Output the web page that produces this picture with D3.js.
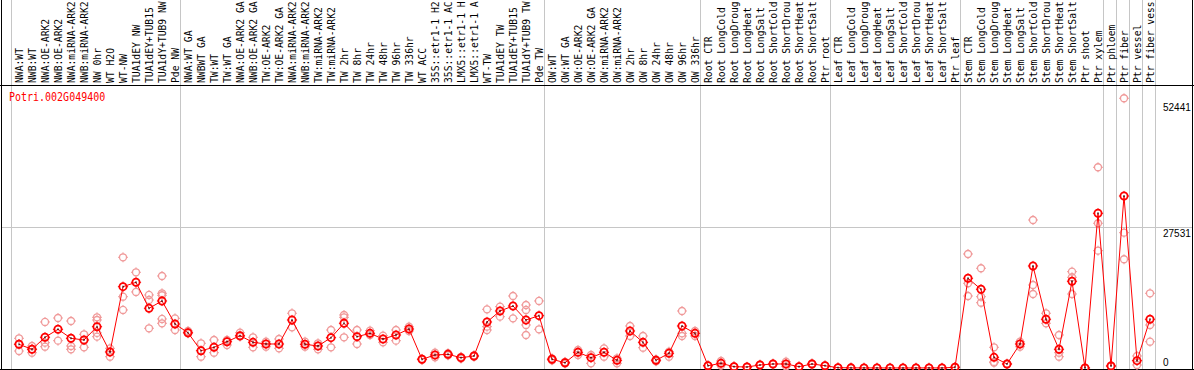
<!DOCTYPE html>
<html>
<head>
<meta charset="utf-8">
<script src="https://cdn.jsdelivr.net/npm/d3@7"></script>
<style>
  html, body { margin: 0; padding: 0; background: #fff; }
  svg { display: block; }
</style>
</head>
<body>
<svg id="chart" width="1194" height="370"></svg>
<script>
const geneId = "Potri.002G049400";

const categories = [
  "NWA:WT","NWB:WT","NWA:OE-ARK2","NWB:OE-ARK2","NWA:miRNA-ARK2","NWB:miRNA-ARK2","NW 0hr","WT H2O","WT-NW","TUA1dEY NW","TUA1dEY+TUB15","TUA1dY+TUB9 NW","Pde NW",
  "NWA:WT GA","NWBWT GA","TW:WT","TW:WT GA","NWA:OE-ARK2 GA","NWB:OE-ARK2 GA","TW:OE-ARK2","TW:OE-ARK2 GA","NWA:miRNA-ARK2","NWB:miRNA-ARK2","TW:miRNA-ARK2","TW:miRNA-ARK2","TW 2hr","TW 8hr","TW 24hr","TW 48hr","TW 96hr","TW 336hr","WT ACC","35S::etr1-1 H2O","35S::etr1-1 ACC","LMX5::etr1-1 H2O","LMX5::etr1-1 ACC","WT-TW","TUA1dEY TW","TUA1dEY+TUB15","TUA1dY+TUB9 TW","Pde TW",
  "OW:WT","OW:WT GA","OW:OE-ARK2","OW:OE-ARK2 GA","OW:miRNA-ARK2","OW:miRNA-ARK2","OW 2hr","OW 8hr","OW 24hr","OW 48hr","OW 96hr","OW 336hr",
  "Root CTR","Root LongCold","Root LongDrought","Root LongHeat","Root LongSalt","Root ShortCold","Root ShortDrought","Root ShortHeat","Root ShortSalt","Ptr root",
  "Leaf CTR","Leaf LongCold","Leaf LongDrought","Leaf LongHeat","Leaf LongSalt","Leaf ShortCold","Leaf ShortDrought","Leaf ShortHeat","Leaf ShortSalt","Ptr leaf",
  "Stem CTR","Stem LongCold","Stem LongDrought","Stem LongHeat","Stem LongSalt","Stem ShortCold","Stem ShortDrought","Stem ShortHeat","Stem ShortSalt","Ptr shoot","Ptr xylem",
  "Ptr phloem","Ptr fiber","Ptr vessel","Ptr fiber vessel"
];

// group boundaries (column indices where a separator line is drawn)
const groupBreaks = [0, 13, 41, 53, 63, 73, 84, 85, 86, 87, 88];

const means = [
  4660, 3680, 6040, 7610, 5840, 5510, 8120, 3150, 15990, 16850, 11740, 13180, 8650,
  6940, 3400, 4070, 5170, 6350, 5050, 4720, 4720, 9440, 4660, 4330, 5960, 8790, 6160, 6820, 5700, 6490, 7670, 1710, 2560, 2690, 2030, 2360, 9050, 11210, 12190, 9440, 10290,
  1710, 1040, 3090, 2030, 3090, 1510, 7280, 5050, 1510, 2890, 8260, 6820,
  450, 920, 260, 200, 590, 790, 790, 260, 790, 450,
  60, 30, 20, 15, 10, 10, 15, 20, 10, 140,
  17640, 15480, 2100, 790, 4720, 20060, 9580, 3680, 17050, 20, 30420,
  390, 33820, 1440, 9580
];

const replicates = [
  [5840, 3340, 4720], [4330, 3010, 3700], [9050, 4980, 4190], [9830, 5370], [9240, 4330, 3680], [6630, 4070], [9970, 9440, 6160, 6900], [3870, 2220], [21770, 14020, 11410], [18820, 14950], [14360, 13370, 7810], [18090, 14690, 14300, 9640, 8790], [9770, 7470],
  [7280, 6820], [4860, 2220], [5510, 3010], [5510, 4520], [6940, 6160], [6040, 4070], [5170, 4190], [5700, 3870], [10760, 8000], [5170, 4190], [4860, 3680], [7470, 4070], [10420, 9970, 6040], [7470, 4720], [7340, 6490], [6350, 5050], [7470, 5370], [8120, 7280], [1800, 1620], [3010, 2100], [2900, 2500], [2200, 1850], [2500, 2220], [11540, 7470, 8130], [12060, 10090], [14160, 9770], [12390, 11410, 8460, 6490], [13180, 7610],
  [1900, 1520], [1200, 880], [3540, 2560], [2560, 920], [3870, 2220], [1910, 920], [8260, 6290], [6290, 3990], [1700, 1330], [3210, 2220], [11210, 6820, 6290], [7280, 6290],
  [500, 400], [1380, 470], [300, 210], [200, 190], [650, 530], [850, 720], [1240, 330], [300, 210], [900, 670], [500, 400],
  [80, 40], [40, 20], [30, 10], [20, 10], [15, 5], [15, 5], [20, 10], [30, 10], [15, 5], [180, 100],
  [22420, 16660, 14160], [19610, 14020, 12840], [4070, 1040, 1200], [840, 730], [5170, 4190], [29100, 16320, 14550], [10760, 8790], [6490, 3010, 2220], [18940, 17840, 14550], [30, 10], [39470, 28460, 23070],
  [500, 290], [53040, 26610, 21380], [2360, 590], [14690, 8460, 5170]
];

const yTickValues = [0, 27531, 52441];

// ---------- drawing ----------
const W = 1194, H = 370;
const svg = d3.select("#chart");

const colStart = 11.5, colW = 13;
const x = d3.scaleBand()
  .domain(d3.range(categories.length))
  .range([colStart, colStart + colW * categories.length])
  .paddingInner(0).paddingOuter(0);
const cx = i => x(i) + 7.5;

const y = d3.scaleLinear().domain([0, 52441]).range([368, 101.3]);

const headerBottom = 85.5;
const gray = "#c6c6c6";
const maxChars = 14;       // header column holds 14 characters

// gridline at middle tick
svg.append("g").selectAll("line")
  .data(yTickValues.filter(v => v !== 0 && v !== 52441))
  .join("line")
  .attr("x1", 1).attr("x2", 1192)
  .attr("y1", d => Math.round(y(d)) - 0.5).attr("y2", d => Math.round(y(d)) - 0.5)
  .attr("stroke", gray).attr("stroke-width", 1);

// group separators
svg.append("g").selectAll("line")
  .data(groupBreaks)
  .join("line")
  .attr("x1", d => x.range()[0] + d * x.bandwidth())
  .attr("x2", d => x.range()[0] + d * x.bandwidth())
  .attr("y1", 0).attr("y2", 369)
  .attr("stroke", gray).attr("stroke-width", 1);

// header labels (truncated to the column height, as in the original)
svg.append("g").selectAll("text")
  .data(categories.map(c => c.slice(0, maxChars).trimEnd()))
  .join("text")
  .attr("transform", (d, i) => `translate(${cx(i) + 4},83) rotate(-90) scale(1,1.12)`)
  .attr("font-family", "DejaVu Sans Mono, monospace")
  .attr("font-size", 9.7)
  .attr("fill", "#000")
  .text(d => d);

// borders
svg.append("line").attr("x1", 0).attr("x2", W).attr("y1", headerBottom).attr("y2", headerBottom)
  .attr("stroke", "#000").attr("stroke-width", 1);
svg.append("line").attr("x1", 0).attr("x2", W).attr("y1", 369.5).attr("y2", 369.5)
  .attr("stroke", "#000").attr("stroke-width", 1);
svg.append("line").attr("x1", 1.5).attr("x2", 1.5).attr("y1", 0).attr("y2", H)
  .attr("stroke", "#000").attr("stroke-width", 1);
svg.append("line").attr("x1", 1192.5).attr("x2", 1192.5).attr("y1", 0).attr("y2", H)
  .attr("stroke", "#000").attr("stroke-width", 1);

// y labels (right side)
svg.append("g").selectAll("text")
  .data(yTickValues)
  .join("text")
  .attr("x", 1163)
  .attr("y", d => Math.min(y(d) + 9.5, 366))
  .attr("font-family", "Liberation Sans, Arial, sans-serif")
  .attr("font-size", 10)
  .attr("fill", "#000")
  .text(d => d);

// gene id
svg.append("text")
  .attr("transform", "translate(9,101) scale(1,1.2)")
  .attr("font-family", "DejaVu Sans Mono, monospace")
  .attr("font-size", 10)
  .attr("fill", "#ff0000")
  .text(geneId);

// marker helper: circle with small cardinal ticks
function marker(g, color, sw, r) {
  g.append("circle").attr("r", r).attr("fill", "none").attr("stroke", color).attr("stroke-width", sw);
  const t = r + 1.5;
  g.append("path")
    .attr("d", `M0,${-t}V${-r+0.5}M0,${t}V${r-0.5}M${-t},0H${-r+0.5}M${t},0H${r-0.5}`)
    .attr("stroke", color).attr("stroke-width", 1).attr("fill", "none");
}

// replicate points
const repData = [];
replicates.forEach((arr, i) => arr.forEach(v => repData.push({ i, v })));
svg.append("g").selectAll("g")
  .data(repData)
  .join("g")
  .attr("transform", d => `translate(${cx(d.i)},${y(d.v)})`)
  .each(function () { marker(d3.select(this), "#f09a9a", 1.3, 3.5); });

// mean line
svg.append("path")
  .datum(means)
  .attr("fill", "none")
  .attr("stroke", "#ff0000")
  .attr("stroke-width", 1)
  .attr("d", d3.line().x((d, i) => cx(i)).y(d => y(d)));

// mean points
svg.append("g").selectAll("g")
  .data(means)
  .join("g")
  .attr("transform", (d, i) => `translate(${cx(i)},${y(d)})`)
  .each(function () {
    const g = d3.select(this);
    marker(g, "#ff0000", 1.8, 3.6);
    g.append("line").attr("x1", 0).attr("x2", 0).attr("y1", -1).attr("y2", 1)
      .attr("stroke", "#000").attr("stroke-width", 1);
  });
</script>
</body>
</html>
